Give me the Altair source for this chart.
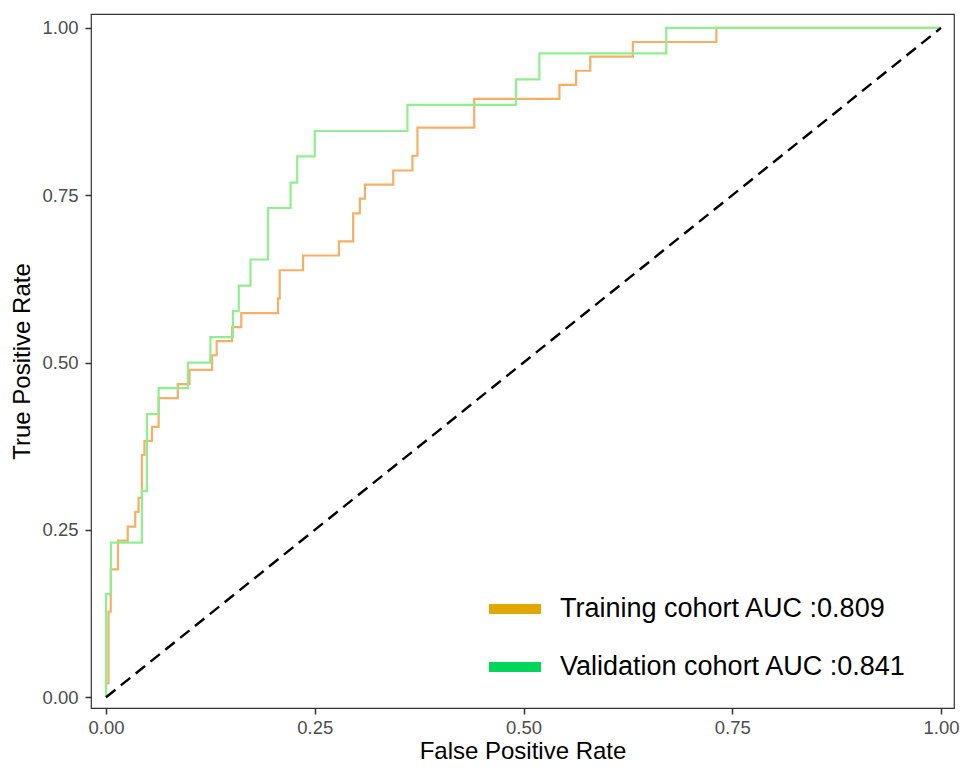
import altair as alt
import pandas as pd

# Training cohort ROC (tops of each vertical step)
train_fpr = [0.0, 0.0, 0.003, 0.0056, 0.0143, 0.026, 0.035, 0.039, 0.043, 0.046, 0.055, 0.063,
             0.086, 0.100, 0.127, 0.1325, 0.151, 0.162, 0.206, 0.208, 0.236, 0.279, 0.296,
             0.304, 0.310, 0.344, 0.367, 0.373, 0.441, 0.543, 0.563, 0.580, 0.631, 0.731, 1.0]
train_tpr = [0.0, 0.021, 0.128, 0.191, 0.234, 0.255, 0.277, 0.298, 0.362, 0.383, 0.404, 0.447,
             0.468, 0.489, 0.511, 0.532, 0.553, 0.574, 0.596, 0.638, 0.660, 0.681, 0.723,
             0.745, 0.766, 0.787, 0.809, 0.851, 0.894, 0.915, 0.936, 0.957, 0.979, 1.0, 1.0]

# Validation cohort ROC
valid_fpr = [0.0, 0.0, 0.006, 0.043, 0.049, 0.063, 0.098, 0.125, 0.152, 0.159, 0.173, 0.194,
             0.221, 0.229, 0.250, 0.361, 0.491, 0.519, 0.671, 1.0]
valid_tpr = [0.0, 0.154, 0.231, 0.308, 0.423, 0.462, 0.500, 0.538, 0.577, 0.615, 0.654, 0.731,
             0.769, 0.808, 0.846, 0.885, 0.923, 0.962, 1.0, 1.0]

series_names = ["Training cohort AUC :0.809", "Validation cohort AUC :0.841"]
line_colors = ["#F5AF66", "#90EE90"]
legend_colors = ["#E0A800", "#00D65A"]

diag_x = [0.0, 1.0]
diag_y = [0.0, 1.0]

tick_vals = [0.0, 0.25, 0.5, 0.75, 1.0]

rows = []
for i, (f, t) in enumerate(zip(train_fpr, train_tpr)):
    rows.append({"fpr": f, "tpr": t, "series": series_names[0], "ord": i})
for i, (f, t) in enumerate(zip(valid_fpr, valid_tpr)):
    rows.append({"fpr": f, "tpr": t, "series": series_names[1], "ord": i})
df = pd.DataFrame(rows)
diag = pd.DataFrame({"fpr": diag_x, "tpr": diag_y})

xscale = alt.Scale(domain=[-0.018, 1.0156], nice=False, zero=False)
yscale = alt.Scale(domain=[-0.016, 1.0208], nice=False, zero=False)

xenc = alt.X("fpr:Q", scale=xscale,
             axis=alt.Axis(values=tick_vals, format=".2f", title="False Positive Rate"))
yenc = alt.Y("tpr:Q", scale=yscale,
             axis=alt.Axis(values=tick_vals, format=".2f", title="True Positive Rate"))

# invisible layer that only carries the legend (legend key colours differ from line colours)
legend_layer = alt.Chart(df).mark_line(strokeOpacity=0, strokeWidth=1).encode(
    x=xenc, y=yenc,
    stroke=alt.Stroke("series:N", scale=alt.Scale(domain=series_names, range=legend_colors),
                      legend=alt.Legend(
                          title=None, orient="none", legendX=393, legendY=564,
                          symbolType="stroke", symbolStrokeWidth=10, symbolSize=2700,
                          symbolOpacity=1,
                          labelFontSize=27, labelFont="Liberation Sans", labelColor="#000000",
                          labelOffset=14, rowPadding=7, labelLimit=600)),
    order="ord:Q",
)

lines = alt.Chart(df).mark_line(interpolate="step-after", strokeWidth=2.2).encode(
    x=xenc, y=yenc,
    color=alt.Color("series:N", scale=alt.Scale(domain=series_names, range=line_colors),
                    legend=None),
    order="ord:Q",
)

diag_line = alt.Chart(diag).mark_line(color="black", strokeWidth=2.4, strokeDash=[12, 7]).encode(
    x=alt.X("fpr:Q", scale=xscale),
    y=alt.Y("tpr:Q", scale=yscale),
)

chart = alt.layer(legend_layer, lines, diag_line).properties(
    width=954, height=756,
    autosize=alt.AutoSizeParams(type="fit", contains="padding"),
    padding={"left": 2, "top": 6, "right": 4, "bottom": 0},
).configure_view(
    stroke="#333333", strokeWidth=1.2
).configure_axis(
    domain=False, grid=False, ticks=True, tickColor="#333333", tickWidth=1.5, tickSize=6,
    labelFontSize=18.5, labelFont="Liberation Sans", labelColor="#4D4D4D",
    titleFontSize=24, titleFont="Liberation Sans", titleColor="#000000", titleFontWeight="normal",
).configure_axisY(titlePadding=7, labelPadding=7).configure_axisX(titlePadding=3, labelPadding=4)

chart.save("out.html", embed_options={"renderer": "svg", "actions": False})
